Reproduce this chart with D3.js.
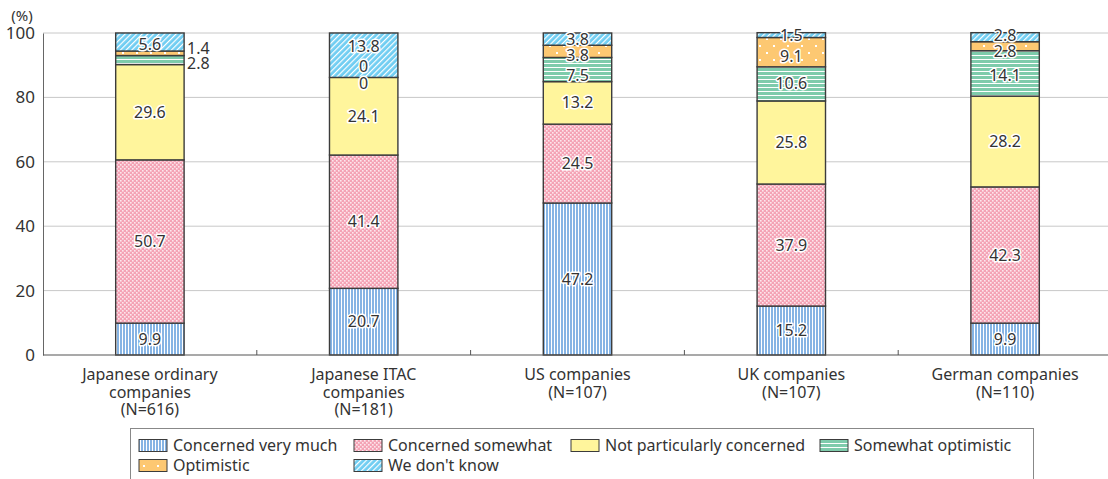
<!DOCTYPE html>
<html>
<head>
<meta charset="utf-8">
<script src="https://cdn.jsdelivr.net/npm/d3@7/dist/d3.min.js"></script>
<style>
  html, body { margin: 0; padding: 0; background: #fff; }
  svg { display: block; font-family: "Noto Sans", "Open Sans", sans-serif; }
</style>
</head>
<body>
<svg id="chart" width="1108" height="479"></svg>
<script>
// Company groups (multi-line axis labels)
const categories = [
  ["Japanese ordinary", "companies", "(N=616)"],
  ["Japanese ITAC", "companies", "(N=181)"],
  ["US companies", "(N=107)"],
  ["UK companies", "(N=107)"],
  ["German companies", "(N=110)"]
];
const seriesNames = [
  "Concerned very much",
  "Concerned somewhat",
  "Not particularly concerned",
  "Somewhat optimistic",
  "Optimistic",
  "We don't know"
];
// Shares (%) per series, one value per company group
const concernedVeryMuch   = [9.9, 20.7, 47.2, 15.2, 9.9];
const concernedSomewhat   = [50.7, 41.4, 24.5, 37.9, 42.3];
const notConcerned        = [29.6, 24.1, 13.2, 25.8, 28.2];
const somewhatOptimistic  = [2.8, 0, 7.5, 10.6, 14.1];
const optimistic          = [1.4, 0, 3.8, 9.1, 2.8];
const dontKnow            = [5.6, 13.8, 3.8, 1.5, 2.8];
const yTicks = [0, 20, 40, 60, 80, 100];

const seriesValues = [concernedVeryMuch, concernedSomewhat, notConcerned,
                      somewhatOptimistic, optimistic, dontKnow];

const svg = d3.select("#chart");
const defs = svg.append("defs");

// ---- fill patterns ----
function pattern(id, w, h, bg, draw) {
  const p = defs.append("pattern").attr("id", id)
    .attr("patternUnits", "userSpaceOnUse").attr("width", w).attr("height", h);
  p.append("rect").attr("width", w).attr("height", h).attr("fill", bg);
  draw(p);
}
pattern("p0", 3, 10, "#86b4e4", p => {
  p.append("rect").attr("x", 2).attr("width", 1).attr("height", 10).attr("fill", "#fff");
});
pattern("p1", 4, 4, "#f4a3b5", p => {
  p.append("rect").attr("x", 0).attr("y", 0).attr("width", 1.6).attr("height", 1.6).attr("fill", "#fde6ec");
  p.append("rect").attr("x", 2).attr("y", 2).attr("width", 1.6).attr("height", 1.6).attr("fill", "#fde6ec");
});
pattern("p2", 4, 4, "#fff59c", p => {});
pattern("p3", 10, 4, "#7ecbab", p => {
  p.append("rect").attr("y", 3).attr("width", 10).attr("height", 1).attr("fill", "#fff");
});
pattern("p4", 14, 14, "#fdc872", p => {
  p.append("rect").attr("x", 3).attr("y", 3).attr("width", 2).attr("height", 2).attr("fill", "#fff");
  p.append("rect").attr("x", 10).attr("y", 10).attr("width", 2).attr("height", 2).attr("fill", "#fff");
});
{
  const p = defs.append("pattern").attr("id", "p5")
    .attr("patternUnits", "userSpaceOnUse").attr("width", 4).attr("height", 4)
    .attr("patternTransform", "rotate(45)");
  p.append("rect").attr("width", 4).attr("height", 4).attr("fill", "#6fcdf2");
  p.append("rect").attr("x", 0).attr("width", 1.2).attr("height", 4).attr("fill", "#fff");
}
const fills = seriesNames.map((d, i) => `url(#p${i})`);

// ---- scales ----
const x = d3.scaleBand().domain(d3.range(categories.length))
  .range([43, 1112]).paddingInner(0.68).paddingOuter(0.34);
const y = d3.scaleLinear().domain([0, 100]).range([355, 33]);

const textColor = "#333";

// grid lines
svg.append("g").selectAll("line").data(yTicks.filter(t => t > 0)).join("line")
  .attr("x1", 43).attr("x2", 1108)
  .attr("y1", d => y(d)).attr("y2", d => y(d))
  .attr("stroke", "#c8c8c8").attr("stroke-width", 1);

// y axis
const yAxis = svg.append("g").attr("transform", "translate(43,0)")
  .call(d3.axisLeft(y).tickValues(yTicks).tickSize(0).tickPadding(8));
yAxis.select(".domain").attr("stroke", "#666");
yAxis.selectAll("text").attr("font-size", 17).attr("fill", textColor)
  .attr("font-family", "'Noto Sans', sans-serif");

svg.append("text").attr("x", 22).attr("y", 16).attr("dy", "0.35em").attr("text-anchor", "middle")
  .attr("font-size", 15).attr("fill", textColor).text("(%)");

// stacked data
const stacks = categories.map((c, ci) => {
  let acc = 0;
  return seriesValues.map((vals, si) => {
    const v = vals[ci];
    const seg = { ci, si, v, y0: acc, y1: acc + v };
    acc += v;
    return seg;
  });
});
const segments = stacks.flat();

// bars
const bars = svg.append("g");
bars.selectAll("rect").data(segments.filter(d => d.v > 0)).join("rect")
  .attr("x", d => x(d.ci))
  .attr("width", x.bandwidth())
  .attr("y", d => y(d.y1))
  .attr("height", d => y(d.y0) - y(d.y1))
  .attr("fill", d => fills[d.si])
  .attr("stroke", "#3c3c3c").attr("stroke-width", 1.4);

// x axis with ticks between groups
const xAxisG = svg.append("g").attr("transform", "translate(0,355)");
xAxisG.append("line").attr("x1", 43).attr("x2", 1112)
  .attr("stroke", "#555").attr("stroke-width", 1.2);
const gap = (x.step() - x.bandwidth()) / 2;
xAxisG.selectAll("line.tick").data(d3.range(1, categories.length)).join("line")
  .attr("class", "tick")
  .attr("x1", d => x(d) - gap)
  .attr("x2", d => x(d) - gap)
  .attr("y1", -5).attr("y2", 0)
  .attr("stroke", "#555");

// category labels
const catG = svg.append("g");
categories.forEach((lines, ci) => {
  const t = catG.append("text")
    .attr("x", x(ci) + x.bandwidth() / 2).attr("y", 380)
    .attr("text-anchor", "middle").attr("font-size", 16).attr("fill", textColor);
  lines.forEach((ln, li) => {
    t.append("tspan").attr("x", x(ci) + x.bandwidth() / 2)
      .attr("dy", li === 0 ? 0 : 17.5).text(ln);
  });
});

// value label placement tweaks for thin segments
const labelShift = {
  "0|5": { dy: 2 },
  "0|4": { dy: -5, out: true },
  "0|3": { dy: 3.5, out: true },
  "1|5": { dy: -8.5 },
  "1|4": { dy: -11 },
  "1|3": { dy: 6 },
  "2|4": { dy: 4 },
  "2|3": { dy: 6 },
  "3|4": { dy: 4 },
  "4|5": { dy: -2 },
  "4|4": { dy: 5 },
  "4|3": { dy: 2 }
};

const labG = svg.append("g");
segments.forEach(d => {
  const s = labelShift[d.ci + "|" + d.si] || {};
  const cy = (y(d.y0) + y(d.y1)) / 2 + (s.dy || 0);
  const txt = String(d.v);
  if (s.out) {
    labG.append("text")
      .attr("x", x(d.ci) + x.bandwidth() + 3).attr("y", cy)
      .attr("dy", "0.35em").attr("text-anchor", "start")
      .attr("font-size", 16).attr("fill", textColor).text(txt);
  } else {
    labG.append("text")
      .attr("x", x(d.ci) + x.bandwidth() / 2).attr("y", cy)
      .attr("dy", "0.35em").attr("text-anchor", "middle")
      .attr("font-size", 16).attr("fill", textColor)
      .attr("stroke", "#fff").attr("stroke-width", 3).attr("stroke-linejoin", "round")
      .attr("paint-order", "stroke")
      .text(txt);
  }
});

// legend
const lg = svg.append("g");
lg.append("rect").attr("x", 130.5).attr("y", 428.5).attr("width", 903).attr("height", 70)
  .attr("fill", "none").attr("stroke", "#888").attr("stroke-width", 1);
const legendPos = [
  [139, 445], [354, 445], [571, 445], [820, 445],
  [139, 465], [354, 465]
];
seriesNames.forEach((name, i) => {
  const [lx, ly] = legendPos[i];
  lg.append("rect").attr("x", lx).attr("y", ly - 5.5).attr("width", 28).attr("height", 12)
    .attr("fill", fills[i]).attr("stroke", "#3c3c3c").attr("stroke-width", 1);
  lg.append("text").attr("x", lx + 34).attr("y", ly).attr("dy", "0.35em")
    .attr("font-size", 16).attr("fill", textColor).text(name);
});
</script>
</body>
</html>
